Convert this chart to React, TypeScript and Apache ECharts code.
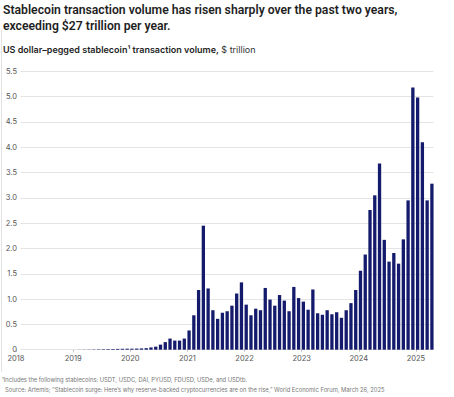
import React, { useEffect, useRef } from "react";
import * as echarts from "echarts";

const yearLabels = ["2018", "2019", "2020", "2021", "2022", "2023", "2024", "2025"];
const v2018 = [0, 0, 0, 0, 0, 0, 0, 0, 0, 0, 0, 0];
const v2019 = [0, 0.002, 0.003, 0.004, 0.006, 0.008, 0.01, 0.012, 0.014, 0.016, 0.018, 0.02];
const v2020 = [0.02, 0.022, 0.025, 0.03, 0.045, 0.06, 0.1, 0.15, 0.22, 0.18, 0.18, 0.22];
const v2021 = [0.38, 0.68, 1.18, 2.45, 1.21, 0.78, 0.61, 0.73, 0.76, 0.87, 1.11, 1.33];
const v2022 = [0.89, 0.68, 0.81, 0.78, 1.22, 0.99, 0.87, 1.08, 0.97, 0.76, 1.24, 1.02];
const v2023 = [0.95, 0.79, 1.19, 0.72, 0.69, 0.78, 0.7, 0.74, 0.63, 0.78, 0.92, 1.18];
const v2024 = [1.56, 1.88, 2.76, 3.05, 3.68, 2.17, 1.74, 1.91, 1.7, 2.18, 2.95, 5.18];
const v2025 = [4.98, 4.1, 2.95, 3.28];

const monthly = [...v2018, ...v2019, ...v2020, ...v2021, ...v2022, ...v2023, ...v2024, ...v2025];

const titleText = "Stablecoin transaction volume has risen sharply over the past two years,\nexceeding $27 trillion per year.";
const subtitleBold = "US dollar\u2013pegged stablecoin\u00B9 transaction volume,";
const subtitleUnit = "$ trillion";
const note1 = "\u00B9Includes the following stablecoins: USDT, USDC, DAI, PYUSD, FDUSD, USDe, and USDtb.";
const note2 = "Source: Artemis; \u201CStablecoin surge: Here\u2019s why reserve-backed cryptocurrencies are on the rise,\u201D World Economic Forum, March 26, 2025";

const FONT = "Inter, 'Noto Sans', Roboto, sans-serif";
const TITLE_FONT = "Roboto, Inter, sans-serif";
const BAR = "#151b6c";

export default function App() {
  const ref = useRef<HTMLDivElement>(null);
  useEffect(() => {
    if (!ref.current) return;
    const chart = echarts.init(ref.current, null, { renderer: "svg" });
    const yearTicks = yearLabels.map((_, k) => k * 12);
    const top = 71.3;
    const bottom = 47.3;
    chart.setOption({
      animation: false,
      backgroundColor: "#ffffff",
      textStyle: { fontFamily: FONT },
      grid: [
        { left: 16, right: 19, top, bottom },
        { left: 20.5, right: 20.5, top, bottom },
      ],
      xAxis: [
        {
          type: "value",
          gridIndex: 0,
          min: 0,
          max: 88,
          axisLine: { show: false },
          splitLine: { show: false },
          axisTick: {
            show: true,
            customValues: yearTicks,
            length: 2,
            lineStyle: { color: "#bbbbbb" },
          },
          axisLabel: {
            customValues: yearTicks,
            formatter: (v: number) => yearLabels[Math.round(v / 12)] ?? "",
            color: "#555555",
            fontSize: 7.5,
            margin: 5,
            fontFamily: FONT,
          },
        },
        {
          type: "value",
          gridIndex: 1,
          min: 0,
          max: 1,
          show: false,
        },
      ],
      yAxis: [
        { type: "value", gridIndex: 0, min: 0, max: 5.5, show: false },
        {
          type: "value",
          gridIndex: 1,
          min: 0,
          max: 5.5,
          interval: 0.5,
          axisLine: { show: false },
          axisTick: { show: false },
          splitLine: { show: true, lineStyle: { color: "#e4e4e4", width: 1 } },
          axisLabel: {
            formatter: (v: number) => (v === 0 ? "0" : v.toFixed(1)),
            color: "#555555",
            fontSize: 7.5,
            margin: 3.5,
            fontFamily: FONT,
          },
        },
      ],
      series: [
        {
          type: "bar",
          xAxisIndex: 0,
          yAxisIndex: 0,
          barWidth: 3.3,
          itemStyle: { color: BAR },
          data: monthly.map((v, i) => [i + 0.35, v]),
        },
      ],
      graphic: [
        {
          type: "line",
          shape: { x1: 1.5, y1: 30, x2: 1.5, y2: 372 },
          style: { stroke: "#e2e2e2", lineWidth: 1 },
          silent: true,
        },
        {
          type: "text",
          left: 3,
          top: 2,
          style: {
            text: titleText,
            fontSize: 12.2,
            fontWeight: 600,
            lineHeight: 16,
            fill: "#1e1e1e",
            fontFamily: TITLE_FONT,
          },
        },
        {
          type: "text",
          left: 3,
          top: 45,
          style: {
            text: `{b|${subtitleBold}} {r|${subtitleUnit}}`,
            rich: {
              b: { fontSize: 9, fontWeight: 600, fill: "#1e1e1e", fontFamily: FONT },
              r: { fontSize: 9, fontWeight: 400, fill: "#333333", fontFamily: FONT },
            },
            fontSize: 9,
            fontFamily: FONT,
          },
        },
        {
          type: "text",
          left: 2,
          top: 376.5,
          style: { text: note1, fontSize: 5.8, fill: "#777777", fontFamily: FONT },
        },
        {
          type: "text",
          left: 5,
          top: 386.5,
          style: { text: note2, fontSize: 5.8, fill: "#777777", fontFamily: FONT },
        },
      ],
    });
    return () => chart.dispose();
  }, []);
  return (
    <div
      ref={ref}
      style={{ position: "fixed", left: 0, top: 0, width: 454, height: 397, background: "#fff" }}
    />
  );
}
